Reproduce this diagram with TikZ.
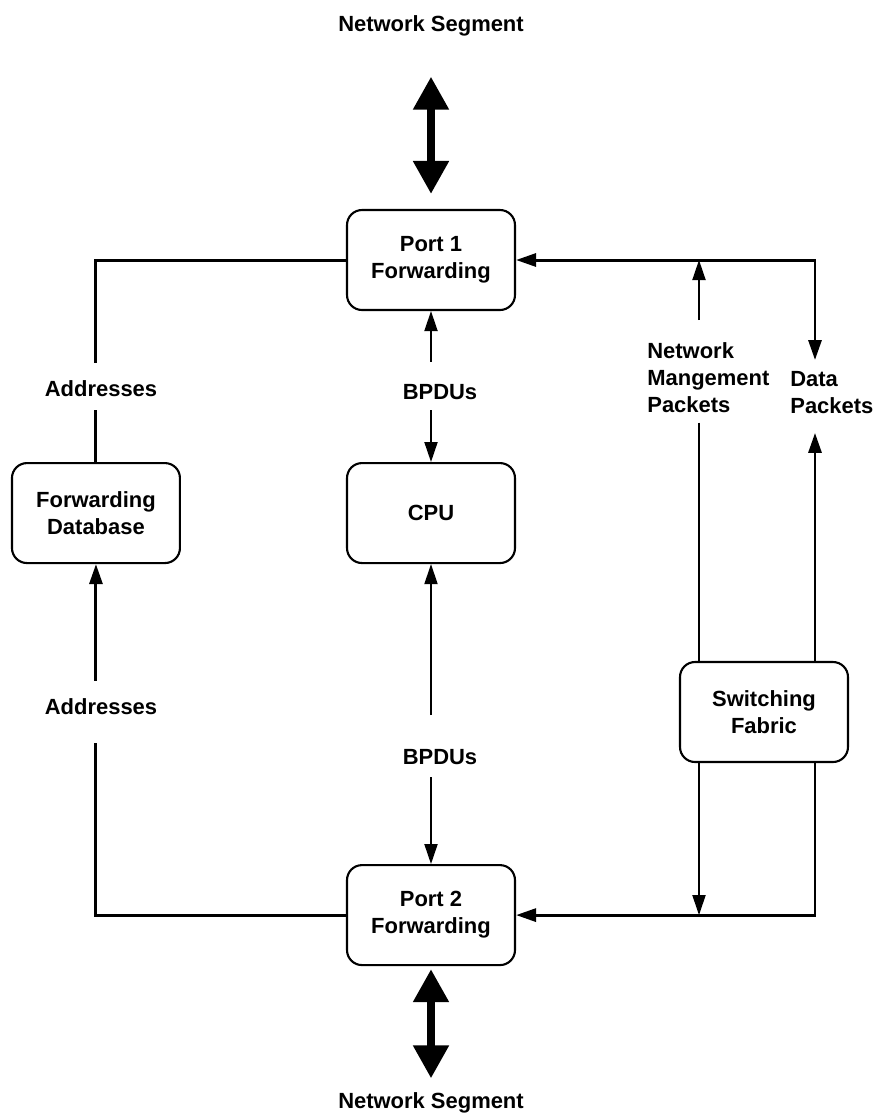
\documentclass[tikz,border=0pt]{standalone}
\usepackage{fontspec}
\setmainfont{Liberation Sans}
\usepackage{tikz}
\usetikzlibrary{positioning}
\usetikzlibrary{arrows.meta}
\tikzset{wire/.style={draw, line width=1.7pt}}
\tikzset{line/.style={wire, -{Triangle[length=0.4cm,width=0.26cm]}}}
\tikzset{thinline/.style={line width=1.1pt}}
\tikzset{bigarrow/.style={draw, line width=0.16cm, {Triangle[length=0.66cm,width=0.68cm]}-{Triangle[length=0.66cm,width=0.68cm]}}}

\begin{document}
\begin{tikzpicture}[x=0.02cm, y=-0.02cm, font=\fontsize{12.5}{15.3}\selectfont\bfseries]
\tikzstyle{block} = [rectangle, rounded corners=0.3cm, draw, line width=1.2pt, minimum width=3.36cm, minimum height=2cm, align=center]
\tikzstyle{txt} = [inner sep=0pt, align=left]
\useasboundingbox (0,0) rectangle (877,1120);

% blocks
    \node [block] (port1) at (431,260) {Port 1\\Forwarding};
    \node [block, below=3.02cm of port1] (cpu) {CPU};
    \node [block, left=3.3cm of cpu] (fdb) {Forwarding\\Database};
    \node [block, below=6cm of cpu] (port2) {Port 2\\Forwarding};
    \node [block] (fabric) at (764,712) {Switching\\Fabric};
% labels
    \node [txt] (segtop) at (431,26) {Network Segment};
    \node [txt] (segbot) at (431,1103) {Network Segment};
    \node [txt] (addr1) at (101,389) {Addresses};
    \node [txt] (addr2) at (101,707) {Addresses};
    \node [txt] (bpdu1) at (440,392) {BPDUs};
    \node [txt] (bpdu2) at (440,757) {BPDUs};
    \node [txt, anchor=north west] (nmp) at (647,342) {Network\\Mangement\\Packets};
    \node [txt, anchor=north west] (data) at (790,371) {Data\\Packets};
    \coordinate (nmlane) at (699,0);
    \coordinate (dplane) at (815,0);
% arrows
    \path [bigarrow, shorten <=0.8cm, shorten >=0.3cm] (segtop.south) -- (port1.north);
    \path [bigarrow, shorten <=0.06cm, shorten >=0.28cm] (port2.south) -- (segbot.north);
    \path [wire, shorten >=0.36cm] (port1.west) -| (addr1.north -| fdb.north);
    \path [wire, shorten <=0.26cm] (addr1.south -| fdb.north) -- (fdb.north);
    \path [line, shorten <=0.36cm] (addr2.north -| fdb.south) -- (fdb.south);
    \path [wire, shorten <=0.56cm] (addr2.south -| fdb.south) |- (port2.west);
    \path [line, thinline, shorten <=0.44cm] (bpdu1.north -| port1.south) -- (port1.south);
    \path [line, thinline, shorten <=0.2cm] (bpdu1.south -| cpu.north) -- (cpu.north);
    \path [line, thinline, shorten <=0.68cm] (bpdu2.north -| cpu.south) -- (cpu.south);
    \path [line, thinline, shorten <=0.24cm] (bpdu2.south -| port2.north) -- (port2.north);
    \path [line, thinline, shorten <=0.44cm] (nmp.north -| nmlane) -- (port1.east -| nmlane);
    \path [wire, thinline, shorten <=0.2cm] (nmp.south -| nmlane) -- (fabric.north -| nmlane);
    \path [wire, {Triangle[length=0.4cm,width=0.26cm]}-{Triangle[length=0.4cm,width=0.26cm]}, shorten <=0.22cm] (data.north -| dplane) |- (port1.east);
    \path [line, shorten >=0.38cm] (fabric.north -| dplane) -- (data.south -| dplane);
    \path [line, thinline] (fabric.south -| nmlane) -- (port2.east -| nmlane);
    \path [line] (fabric.south -| dplane) |- (port2.east);
\end{tikzpicture}
\end{document}
